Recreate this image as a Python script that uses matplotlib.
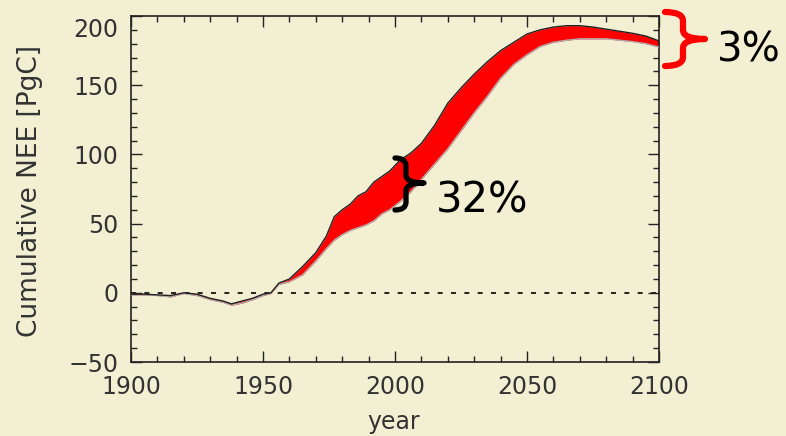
import numpy as np
import matplotlib
matplotlib.use("Agg")
import matplotlib.pyplot as plt
from matplotlib.path import Path
from matplotlib.patches import PathPatch
from matplotlib.ticker import MultipleLocator
import matplotlib.transforms as mtransforms

# ---- data ----
years = [1900, 1905, 1910, 1915, 1920, 1925, 1930, 1935, 1938, 1942, 1946, 1950,
         1953, 1956, 1960, 1965, 1970, 1974, 1977, 1980, 1983, 1986, 1989, 1992,
         1995, 1998, 2002, 2006, 2010, 2015, 2020, 2025, 2030, 2035, 2040, 2045,
         2050, 2055, 2060, 2065, 2070, 2075, 2080, 2085, 2090, 2095, 2100]
nee_upper = [-1, -1, -1.5, -2, 0, -1, -4, -6, -8, -6, -4, -1,
             0, 7, 10, 19, 29, 41, 55, 60, 64, 70, 73, 80,
             84, 88, 96, 101, 108, 121, 137, 148, 158, 167, 175, 181,
             187, 190, 192, 193, 193, 192, 190.5, 189, 187.5, 185.5, 182]
nee_lower = [-1.5, -1.5, -2, -3, -0.5, -2, -5, -7, -9, -7.5, -5, -2,
             -0.5, 6, 8, 13, 23, 32, 38, 42, 45, 47, 49, 52,
             57, 60, 66, 73, 82, 93, 104, 117, 130, 142, 155, 165,
             172, 178, 181, 182.5, 183.5, 183.5, 183.5, 182.5, 181.5, 180, 177.5]
xticks = [1900, 1950, 2000, 2050, 2100]
yticks = [-50, 0, 50, 100, 150, 200]
label_hist = "32%"
label_future = "3%"

BG = "#f2efd3"
W, H = 786, 436

fig = plt.figure(figsize=(W / 100, H / 100), dpi=100, facecolor=BG)
ax = fig.add_axes([131 / W, 1 - 362 / H, (659 - 131) / W, (362 - 16) / H])
ax.set_facecolor(BG)

ax.axhline(0, color="black", lw=1.2, ls=(0, (3, 5)), zorder=1)
ax.fill_between(years, nee_lower, nee_upper, color="#ff0000", lw=0, zorder=2)
ax.plot(years, nee_lower, color="#b0b0b0", lw=1.0, zorder=3)
ax.plot(years, nee_upper, color="#222222", lw=1.0, zorder=4)

ax.set_xlim(1900, 2100)
ax.set_ylim(-50, 200)
ax.set_xticks(xticks)
ax.set_yticks(yticks)
ax.xaxis.set_minor_locator(MultipleLocator(10))
ax.yaxis.set_minor_locator(MultipleLocator(10))
ax.tick_params(which="both", direction="in", top=True, right=True, color="#222222", width=1.0)
ax.tick_params(which="major", length=8)
ax.tick_params(which="minor", length=4)
ax.tick_params(axis="y", which="major", pad=9, labelsize=17, labelcolor="#333333")
ax.tick_params(axis="x", which="major", pad=9, labelsize=17, labelcolor="#333333")
for s in ax.spines.values():
    s.set_color("#222222")
    s.set_linewidth(1.2)

fig.canvas.draw()
# the top label sits a little below its tick in the reference
for lbl in ax.get_yticklabels():
    if lbl.get_text() == "200":
        lbl.set_transform(lbl.get_transform() + mtransforms.ScaledTranslation(0, -12 / 100, fig.dpi_scale_trans))

fig.text(30 / W, 1 - 191 / H, "Cumulative NEE [PgC]", rotation=90, ha="center", va="center",
         fontsize=19, color="#333333")
fig.text(394 / W, 1 - 422 / H, "year", ha="center", va="center", fontsize=17, color="#333333")

fig.text(436 / W, 1 - 200 / H, label_hist, ha="left", va="center", fontsize=30, color="black")
fig.text(717 / W, 1 - 51 / H, label_future, ha="left", va="center", fontsize=29, color="black")

pix = mtransforms.Affine2D().scale(1 / W, -1 / H).translate(0, 1) + fig.transFigure


def brace(xl, xm, xr, yt, ymid, yb, r, color, lw):
    verts = [(xl, yt), (xm, yt), (xm, yt + r),
             (xm, ymid - r), (xm, ymid), (xr, ymid),
             (xm, ymid), (xm, ymid + r),
             (xm, yb - r), (xm, yb), (xl, yb)]
    codes = [Path.MOVETO, Path.CURVE3, Path.CURVE3,
             Path.LINETO, Path.CURVE3, Path.CURVE3,
             Path.CURVE3, Path.CURVE3,
             Path.LINETO, Path.CURVE3, Path.CURVE3]
    p = PathPatch(Path(verts, codes), transform=pix, fill=False, ec=color, lw=lw,
                  capstyle="round", joinstyle="round")
    p.set_clip_on(False)
    fig.add_artist(p)


brace(395, 406, 424, 158, 183, 210, 8, "black", 3.8)
brace(665, 683, 705, 12, 39, 66, 9, "#ff0000", 4.5)

fig.savefig("out.png", dpi=100, facecolor=BG)
